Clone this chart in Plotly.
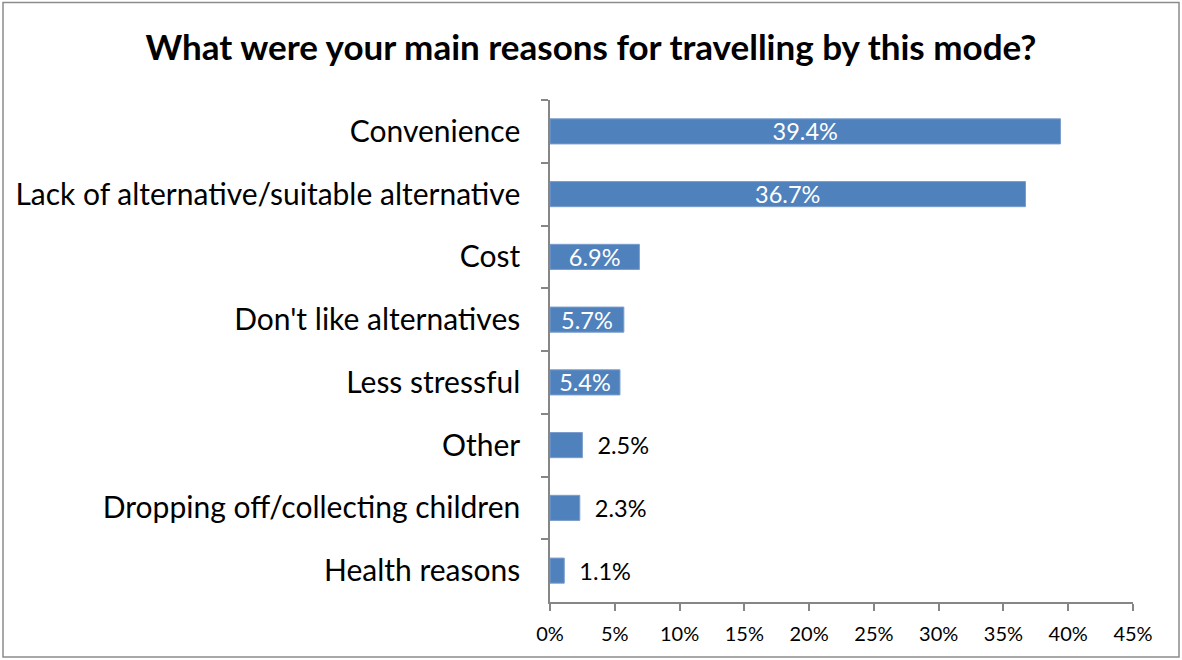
import plotly.graph_objects as go

categories = ["Convenience", "Lack of alternative/suitable alternative", "Cost",
              "Don't like alternatives", "Less stressful", "Other",
              "Dropping off/collecting children", "Health reasons"]
values = [39.4, 36.7, 6.9, 5.7, 5.4, 2.5, 2.3, 1.1]
x_ticks = [0, 5, 10, 15, 20, 25, 30, 35, 40, 45]
x_tick_labels = [f"{t}%" for t in x_ticks]

FONT = "Lato"
positions = ["inside" if v > 5 else "outside" for v in values]
texts = [f"{v:.1f}%" if p == "inside" else "\u00a0\u00a0" + f"{v:.1f}%" for v, p in zip(values, positions)]

fig = go.Figure(go.Bar(
    y=categories, x=values, orientation="h",
    marker=dict(color="#4F81BD", line=dict(color="#7A9CCB", width=1)),
    width=0.4,
    text=texts, textposition=positions, insidetextanchor="middle",
    insidetextfont=dict(color="white", size=23.5, family=FONT),
    outsidetextfont=dict(color="black", size=23.5, family=FONT),
    cliponaxis=False,
))

W, H = 1182, 660
L, R, T, B = 550, 49, 100, 58
pw, ph = W - L - R, H - T - B

def px_x(p):
    return (p - L) / pw

def px_y(p):
    return (H - B - p) / ph

fig.update_layout(
    width=W, height=H,
    margin=dict(l=L, r=R, t=T, b=B, autoexpand=False),
    paper_bgcolor="white", plot_bgcolor="white",
    showlegend=False,
    uniformtext=dict(minsize=23.5, mode="show"),
    font=dict(family=FONT, color="black"),
    title=dict(text="<b>What were your main reasons for travelling by this mode?</b>",
               x=0.5, xanchor="center", y=1 - 48 / H, yanchor="middle",
               font=dict(size=35, family=FONT, color="black")),
    xaxis=dict(range=[0, 45], tickvals=x_ticks, ticktext=x_tick_labels,
               showline=True, linecolor="#868686", linewidth=1.5,
               ticks="outside", ticklen=7, tickcolor="#868686", tickwidth=1.5,
               showgrid=False, zeroline=False, ticklabelstandoff=6,
               tickfont=dict(size=20, family=FONT, color="black")),
    yaxis=dict(categoryorder="array", categoryarray=categories, autorange="reversed",
               showline=True, linecolor="#868686", linewidth=1.5,
               ticks="outside", ticklen=7, tickcolor="#868686", tickwidth=1.5,
               tickson="boundaries", showgrid=False, zeroline=False,
               ticklabelstandoff=22,
               tickfont=dict(size=30, family=FONT, color="black")),
    shapes=[dict(type="rect", xref="paper", yref="paper",
                 x0=px_x(3), x1=px_x(1179), y0=px_y(657), y1=px_y(2.5),
                 line=dict(color="#8C8C8C", width=1.5), fillcolor="rgba(0,0,0,0)",
                 layer="below")],
)

fig.write_html("out.html")
